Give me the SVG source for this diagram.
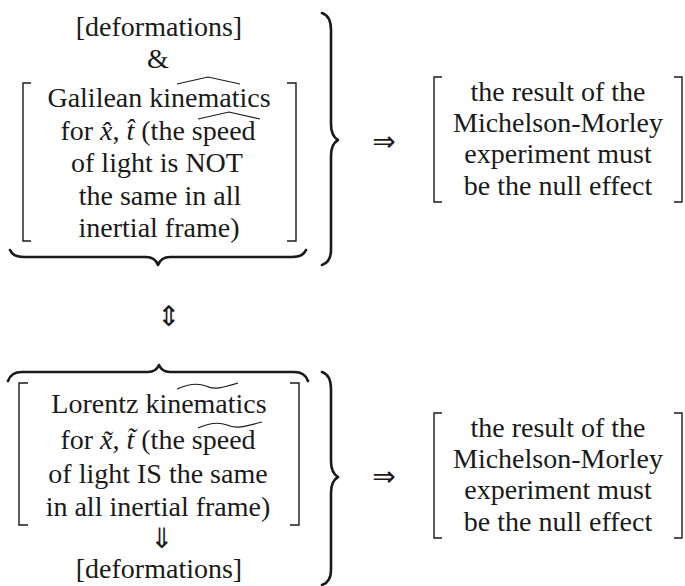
<svg xmlns="http://www.w3.org/2000/svg" width="685" height="586" viewBox="0 0 685 586">
<style>
  text { font-family: "Liberation Serif", "Times New Roman", serif; font-size: 28px; fill: #1a1a1a; text-anchor: middle; }
  .ar { font-family: "DejaVu Sans", sans-serif; }
  .br { fill: none; stroke: #1a1a1a; stroke-width: 1.4; }
  .brace { fill: none; stroke: #1a1a1a; stroke-width: 2.6; stroke-linecap: round; stroke-linejoin: round; }
  .acc { fill: none; stroke: #1a1a1a; stroke-width: 1.2; }
</style>
<rect width="685" height="586" fill="#ffffff"/>

<g id="galilean">
  <text x="159" y="36">[deformations]</text>
  <text x="158" y="68">&amp;</text>
  <path class="br" d="M31,83 H23 V241 H31"/>
  <path class="br" d="M287,83 H296 V241 H287"/>
  <text x="159" y="107">Galilean kinematics</text>
  <path class="acc" d="M177,84 L208,77 L240,84"/>
  <text x="158" y="140">for <tspan font-style="italic">x̂</tspan>, <tspan font-style="italic">t̂</tspan> (the speed</text>
  <path class="acc" d="M198,119 L229,112 L260,119"/>
  <text x="157" y="172">of light is NOT</text>
  <text x="160" y="205">the same in all</text>
  <text x="159" y="237">inertial frame)</text>
  <path class="brace" d="M10,250 Q13,257 24,257 H146 Q155,257 158,265 Q161,257 170,257 H292 Q303,257 306,250"/>
</g>

<g id="lorentz">
  <path class="brace" d="M8,381 Q11,372 22,372 H148 Q156,372 159,365 Q162,372 170,372 H294 Q305,372 308,381"/>
  <path class="br" d="M28,383 H19 V525 H28"/>
  <path class="br" d="M290,383 H299 V525 H290"/>
  <text x="159" y="413">Lorentz kinematics</text>
  <path class="acc" d="M177,389 C188,384 198,383 206,386 C214,390 222,388 238,383"/>
  <text x="158" y="449">for <tspan font-style="italic">x̃</tspan>, <tspan font-style="italic">t̃</tspan> (the speed</text>
  <path class="acc" d="M198,428 C209,423 219,422 227,425 C235,429 243,427 262,422"/>
  <text x="158" y="483">of light IS the same</text>
  <text x="158" y="516">in all inertial frame)</text>
  <text class="ar" x="162" y="548" font-size="20">⇓</text>
  <text x="159" y="578">[deformations]</text>
</g>

<g id="result-top">
  <path class="br" d="M442,77 H434 V202 H442"/>
  <path class="br" d="M674,77 H682 V202 H674"/>
  <text x="558" y="101">the result of the</text>
  <text x="558" y="132">Michelson-Morley</text>
  <text x="558" y="163">experiment must</text>
  <text x="558" y="195">be the null effect</text>
</g>

<g id="result-bottom">
  <path class="br" d="M442,413 H434 V538 H442"/>
  <path class="br" d="M674,413 H682 V538 H674"/>
  <text x="558" y="437">the result of the</text>
  <text x="558" y="468">Michelson-Morley</text>
  <text x="558" y="499">experiment must</text>
  <text x="558" y="531">be the null effect</text>
</g>

<g id="connectors">
  <path class="brace" d="M322,13 Q331,16 331,30 V124 Q331,136 338,140 Q331,144 331,156 V250 Q331,262 322,265"/>
  <path class="brace" d="M322,372 Q331,375 331,389 V461 Q331,473 338,477 Q331,481 331,493 V570 Q331,582 322,585"/>
  <text class="ar" x="384" y="151" font-size="34">⇒</text>
  <text class="ar" x="384" y="486" font-size="34">⇒</text>
  <text class="ar" x="169" y="326" font-size="30">⇕</text>
</g>
</svg>
